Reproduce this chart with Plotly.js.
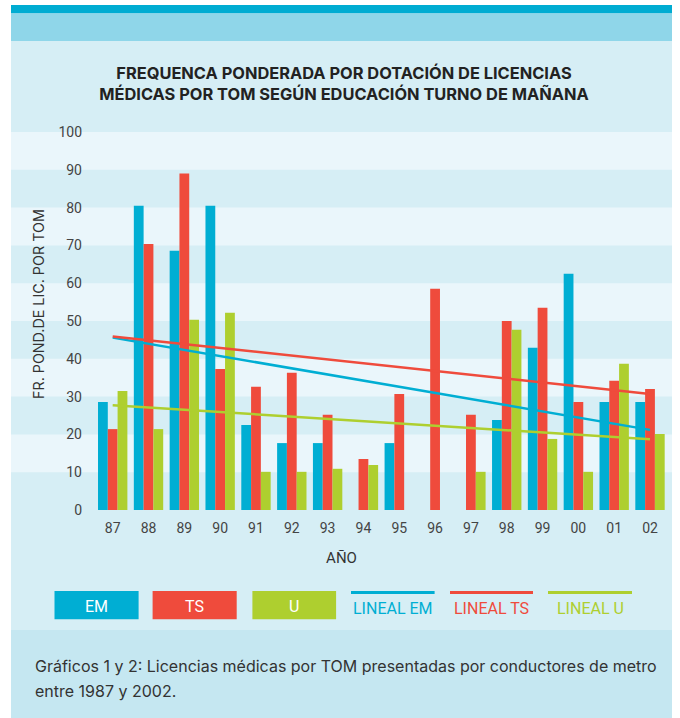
<!DOCTYPE html>
<html>
<head>
<meta charset="utf-8">
<script src="https://cdn.plot.ly/plotly-3.0.1.min.js"></script>
<style>
  html, body { margin: 0; padding: 0; background: #ffffff; }
  #chart { width: 680px; height: 718px; }
</style>
</head>
<body>
<div id="chart"></div>
<script>
// ---- Data ----
const years = ['87','88','89','90','91','92','93','94','95','96','97','98','99','00','01','02'];
const valuesEM = [28.6, 80.5, 68.6, 80.5, 22.5, 17.7, 17.7, null, 17.7, null, null, 23.8, 42.9, 62.5, 28.6, 28.6];
const valuesTS = [21.4, 70.4, 89.0, 37.3, 32.6, 36.3, 25.2, 13.5, 30.7, 58.5, 25.2, 50.0, 53.5, 28.6, 34.2, 32.0];
const valuesU  = [31.5, 21.4, 50.3, 52.2, 10.1, 10.1, 10.9, 11.9, null, null, 10.1, 47.7, 18.8, 10.1, 38.7, 20.1];
// linear trend lines: values at first and last year
const trendYears = ['87', '02'];
const trendEM = [45.6, 21.2];
const trendTS = [45.9, 30.7];
const trendU  = [27.7, 18.7];
const seriesNames = ['EM', 'TS', 'U'];
const trendNames = ['LINEAL EM', 'LINEAL TS', 'LINEAL U'];
const yTicks = [0, 10, 20, 30, 40, 50, 60, 70, 80, 90, 100];

const titleText = 'FREQUENCA PONDERADA POR DOTACIÓN DE LICENCIAS<br>MÉDICAS POR TOM SEGÚN EDUCACIÓN TURNO DE MAÑANA';
const xTitle = 'AÑO';
const yTitle = 'FR. POND.DE LIC. POR TOM';
const captionLines = [
  'Gráficos 1 y 2: Licencias médicas por TOM presentadas por conductores de metro',
  'entre 1987 y 2002.'
];

// ---- Styling ----
const cEM = '#00aed3', cTS = '#ef4b3c', cU = '#aecf2f';
const colors = [cEM, cTS, cU];
const FONT = 'Roboto, "Noto Sans", sans-serif';
const FONT2 = 'Inter, Roboto, sans-serif';

const W = 680, H = 718;
const L = 11, R = 672, T = 132, B = 510;
const px2x = p => (p - L) / (R - L);
const px2y = p => (B - p) / (B - T);

const traces = [
  { type: 'bar', name: seriesNames[0], x: years, y: valuesEM, marker: { color: cEM } },
  { type: 'bar', name: seriesNames[1], x: years, y: valuesTS, marker: { color: cTS } },
  { type: 'bar', name: seriesNames[2], x: years, y: valuesU,  marker: { color: cU } },
  { type: 'scatter', mode: 'lines', name: trendNames[0], x: trendYears, y: trendEM, line: { color: cEM, width: 2.5 } },
  { type: 'scatter', mode: 'lines', name: trendNames[1], x: trendYears, y: trendTS, line: { color: cTS, width: 2.5 } },
  { type: 'scatter', mode: 'lines', name: trendNames[2], x: trendYears, y: trendU,  line: { color: cU, width: 2.5 } }
];

const shapes = [];
const rectPx = (x0, y0, x1, y1, color) => shapes.push({
  type: 'rect', xref: 'paper', yref: 'paper', layer: 'below',
  x0: px2x(x0), x1: px2x(x1), y0: px2y(y1), y1: px2y(y0),
  fillcolor: color, line: { width: 0 }
});
// panel backgrounds
rectPx(11, 5, 672, 13.5, '#00acd2');
rectPx(11, 13.5, 672, 41, '#8fd6e9');
rectPx(11, 41, 672, 630, '#d6eef5');
rectPx(11, 630, 672, 718, '#c5e7f1');
// alternating light bands in the plot area
for (let i = 1; i < yTicks.length - 1; i += 2) {
  shapes.push({
    type: 'rect', xref: 'paper', yref: 'y', layer: 'below',
    x0: 0, x1: 1, y0: yTicks[i], y1: yTicks[i + 1],
    fillcolor: '#eaf6fb', line: { width: 0 }
  });
}

const annotations = [];
// y axis title
annotations.push({
  xref: 'paper', yref: 'paper', x: px2x(38), y: px2y(304),
  text: yTitle, showarrow: false, textangle: -90,
  xanchor: 'center', yanchor: 'middle',
  font: { family: FONT2, size: 14.3, color: '#333333' }
});
// legend: boxes with white text
const boxX = [[54.5, 138.6], [152.6, 236.7], [252.4, 336.1]];
seriesNames.forEach((n, i) => {
  rectPx(boxX[i][0], 591, boxX[i][1], 619.3, colors[i]);
  annotations.push({
    xref: 'paper', yref: 'paper', x: px2x((boxX[i][0] + boxX[i][1]) / 2), y: px2y(606),
    text: n, showarrow: false, xanchor: 'center', yanchor: 'middle',
    font: { family: FONT, size: 16, color: '#ffffff' }
  });
});
const lineX = [[351, 434.6], [450, 533], [548, 632]];
trendNames.forEach((n, i) => {
  shapes.push({
    type: 'line', xref: 'paper', yref: 'paper', layer: 'above',
    x0: px2x(lineX[i][0]), x1: px2x(lineX[i][1]), y0: px2y(592.5), y1: px2y(592.5),
    line: { color: colors[i], width: 3 }
  });
  annotations.push({
    xref: 'paper', yref: 'paper', x: px2x((lineX[i][0] + lineX[i][1]) / 2), y: px2y(608),
    text: n, showarrow: false, xanchor: 'center', yanchor: 'middle',
    font: { family: FONT, size: 16, color: colors[i] }
  });
});
// caption
captionLines.forEach((t, i) => {
  annotations.push({
    xref: 'paper', yref: 'paper', x: px2x(33), y: px2y(666 + i * 25),
    text: t, showarrow: false, xanchor: 'left', yanchor: 'middle',
    font: { family: FONT2, size: 16, color: '#333333' }
  });
});

const layout = {
  width: W, height: H,
  margin: { l: L, r: W - R, t: T, b: H - B, pad: 0 },
  paper_bgcolor: '#ffffff',
  plot_bgcolor: 'rgba(0,0,0,0)',
  showlegend: false,
  hovermode: false,
  barmode: 'group',
  bargap: 0.18,
  bargroupgap: 0,
  font: { family: FONT, color: '#444444' },
  title: {
    text: titleText,
    font: { family: FONT2, size: 16.4, color: '#222222', weight: 'bold' },
    x: 344 / W, xanchor: 'center',
    xref: 'container',
    yref: 'container', y: 1 - 79 / H, yanchor: 'middle'
  },
  xaxis: {
    type: 'category', categoryorder: 'array', categoryarray: years,
    range: [-2.839, 15.614],
    showgrid: false, zeroline: false, showline: false, ticks: '',
    tickfont: { family: FONT, size: 14, color: '#444444' },
    ticklabelstandoff: 8,
    title: { text: xTitle, font: { family: FONT, size: 15, color: '#333333' }, standoff: 17 }
  },
  yaxis: {
    range: [0, 100], tickvals: yTicks, anchor: 'free', position: px2x(82),
    showgrid: false, zeroline: false, showline: false, ticks: '',
    tickfont: { family: FONT, size: 14, color: '#444444' }
  },
  shapes: shapes,
  annotations: annotations
};

Plotly.newPlot('chart', traces, layout, { staticPlot: true, displayModeBar: false });
</script>
</body>
</html>
